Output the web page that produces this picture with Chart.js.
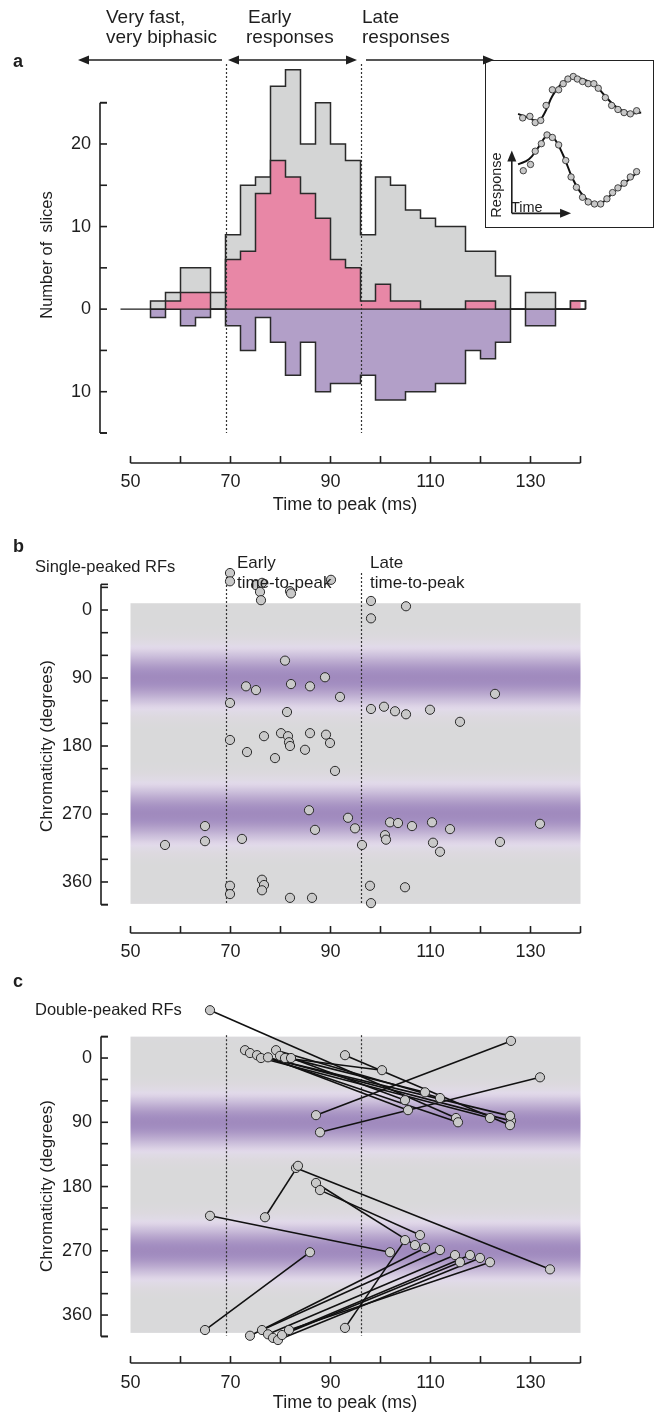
<!DOCTYPE html>
<html lang="en">
<head>
<meta charset="UTF-8">
<title>Time to peak</title>
<script src="https://cdn.jsdelivr.net/npm/chart.js"></script>
<style>
  body { margin: 0; background: #fff; }
  .page { position: relative; width: 662px; height: 1416px; overflow: hidden; }
  .page canvas { position: absolute; left: 0; }
  .insetBox { position: absolute; left: 485px; top: 60px; width: 167px; height: 166px; border: 1.5px solid #222; }
  .insetBox canvas { position: absolute; left: 0; top: 0; }
</style>
</head>
<body>
<div class="page">
  <canvas id="histo" width="662" height="520" style="top:0"></canvas>
  <div class="insetBox"><canvas id="inset" width="167" height="166"></canvas></div>
  <canvas id="single" width="662" height="440" style="top:520px"></canvas>
  <canvas id="double" width="662" height="456" style="top:960px"></canvas>
</div>
<script>
// ---- data ----
const timeTicks = [50, 60, 70, 80, 90, 100, 110, 120, 130, 140];
const timeLabels = [50, 70, 90, 110, 130];
const boundaries = [69, 96];

// panel a histogram, 3 ms bins
const binStart = [54,57,60,63,66,69,72,75,78,81,84,87,90,93,96,99,102,105,108,111,114,117,120,123,126,129,132,135,138];
const binWidth = 3;
const allCounts    = [1,2,5,5,2, 9,15,16,27,29,20,25,20,18, 9,16,15,12,11,10,10,7,7,4, 0,2,2,0,1];
const pinkCounts   = [0,1,2,2,0, 6,7,14,18,16,14,11,6,5, 1,3,1,1,0,0,0,1,1,0, 0,0,0,0,1];
const purpleCounts = [1,0,2,1,0, 2,5,1,4,8,4,10,9,9, 8,11,11,10,10,9,9,5,6,4, 0,2,2,0,0];
const sliceTicks = [-15, -10, -5, 0, 5, 10, 15, 20, 25];
const sliceLabels = [-10, 0, 10, 20];

// panel b, single-peaked
const singleTime = [69.9,69.9,75.1,76.3,75.9,76.1,81.9,82.1,90.1,80.9,73.1,75.1,82.1,85.9,88.9,69.9,81.3,91.9,
  69.9,76.7,80.1,81.5,81.7,81.9,85.9,89.1,89.9,73.3,78.9,84.9,90.9,85.7,93.5,94.9,64.9,64.9,56.9,72.3,86.9,
  69.9,69.9,76.3,76.7,76.3,81.9,86.3,96.3,98.1,105.1,98.1,122.9,98.1,100.7,102.9,105.1,109.9,115.9,
  101.9,103.5,100.9,101.1,110.3,106.3,113.9,110.5,111.9,123.9,131.9,97.9,104.9,98.1];
const singleDeg = [-49,-38,-33,-36,-24,-13,-25,-22,-40,67,101,106,98,101,89,123,135,115,
  172,167,163,167,175,180,163,165,176,188,196,185,213,265,275,289,286,306,311,303,291,
  365,376,357,364,371,381,381,311,-12,-5,11,111,131,128,134,138,132,148,
  281,282,298,304,281,286,290,308,320,307,283,365,367,388];

// panel c, double-peaked: early peak -> late peak
const earlyTime = [65.9,72.9,73.9,75.3,76.1,77.5,79.1,79.9,80.9,82.1,92.9,131.9,126.1,76.9,83.1,87.1,87.9,64.9,73.9,76.3,77.5,78.5,79.5,80.3,81.7,92.9,65.9];
const earlyDeg  = [-67,-11,-7,-4,0,-1,-11,-3,0,0,-4,27,-24,223,154,175,185,381,389,381,387,392,395,388,381,378,221];
const lateTime  = [115.1,115.5,126.1,125.9,121.9,105.5,111.9,108.9,100.3,104.9,125.9,87.9,87.1,83.5,133.9,106.9,107.9,85.9,108.9,111.9,114.9,117.9,119.9,115.9,121.9,104.9,101.9];
const lateDeg   = [84,90,88,81,84,73,56,48,17,59,94,104,80,151,296,262,248,272,266,269,276,276,280,286,286,255,272];

const chromaTicks = [-30,0,30,60,90,120,150,180,210,240,270,300,330,360,390];
const chromaLabels = [0, 90, 180, 270, 360];

// inset example responses
const insetTopTime = [20.2,24.8,28.2,31.7,35.1,39.1,43.1,46.0,49.0,52.4,55.0,58.3,61.9,65.5,68.3,72.8,76.8,80.8,84.7,88.7,92.7];
const insetTopResp = [66.7,67.7,63.7,65.1,74.7,84.7,84.7,88.6,91.6,93.2,91.6,90.0,88.6,88.6,85.7,79.7,74.7,72.1,70.1,69.3,71.3];
const insetTopFitT = [17.3,24.2,30.2,34.1,39.1,45,52,59.9,65.9,71.8,77.8,83.7,89.7,95.6];
const insetTopFitR = [69.3,66.7,64.7,69.7,80.7,88.6,92.6,91,88,81.7,75.3,71.3,69.7,70.1];
const insetBotTime = [20.6,25.2,28.2,32.1,35.7,39.1,43.1,47.6,51.0,54.4,58.3,61.9,65.9,69.8,73.8,77.4,80.8,84.7,88.7,92.7];
const insetBotResp = [32.9,36.9,45.4,50.2,55.8,54.2,49.4,39.4,28.9,22.3,15.9,12.9,11.6,11.6,14.9,18.9,21.9,24.9,28.9,32.3];
const insetBotFitT = [17.3,24.2,30.2,36.1,40.1,46,52,57.9,64.9,70.8,77.8,85.7,93.7];
const insetBotFitR = [36.9,40.2,47.8,55.8,53.8,42.8,27.9,17.9,12,12.4,18.9,25.5,32.3];

// ---- helpers ----
const FONT = '"Liberation Sans", Arial, Helvetica, sans-serif';
const INK = '#1e1e1e';
Chart.defaults.font.family = FONT;

function txt(ctx, s, x, y, size, o = {}) {
  ctx.save();
  ctx.font = (o.bold ? 'bold ' : '') + size + 'px ' + FONT;
  ctx.fillStyle = INK;
  ctx.textAlign = o.align || 'left';
  ctx.textBaseline = 'middle';
  ctx.translate(x, y);
  if (o.rotate) ctx.rotate(o.rotate);
  ctx.fillText(s, 0, 0);
  ctx.restore();
}

function head(ctx, x, y, ang) {
  const L = 11, W = 4.5;
  ctx.beginPath();
  ctx.moveTo(x, y);
  ctx.lineTo(x - L * Math.cos(ang) + W * Math.sin(ang), y - L * Math.sin(ang) - W * Math.cos(ang));
  ctx.lineTo(x - L * Math.cos(ang) - W * Math.sin(ang), y - L * Math.sin(ang) + W * Math.cos(ang));
  ctx.closePath();
  ctx.fill();
}

function line(ctx, x1, y1, x2, y2) {
  ctx.beginPath(); ctx.moveTo(x1, y1); ctx.lineTo(x2, y2); ctx.stroke();
}

function xAxis(ctx, xs, yPix, labelY) {
  ctx.save();
  ctx.strokeStyle = INK; ctx.lineWidth = 1.6;
  line(ctx, xs.getPixelForValue(timeTicks[0]), yPix, xs.getPixelForValue(timeTicks[timeTicks.length - 1]), yPix);
  timeTicks.forEach(t => { const p = xs.getPixelForValue(t); line(ctx, p, yPix, p, yPix - 7); });
  ctx.restore();
  timeLabels.forEach(t => txt(ctx, String(t), xs.getPixelForValue(t), labelY, 18, { align: 'center' }));
}

function yAxis(ctx, ys, xPix, from, to, ticks, labels, fmt) {
  ctx.save();
  ctx.strokeStyle = INK; ctx.lineWidth = 1.6;
  line(ctx, xPix, ys.getPixelForValue(from), xPix, ys.getPixelForValue(to));
  [from, to].concat(ticks).forEach(v => { const p = ys.getPixelForValue(v); line(ctx, xPix, p, xPix + 7, p); });
  ctx.restore();
  labels.forEach(v => txt(ctx, fmt(v), xPix - 9, ys.getPixelForValue(v), 18, { align: 'right' }));
}

function dashed(ctx, xs, ys, from, to) {
  ctx.save();
  ctx.strokeStyle = '#333'; ctx.lineWidth = 1.2; ctx.setLineDash([2, 2]);
  boundaries.forEach(b => { const p = Math.round(xs.getPixelForValue(b)) + 0.5; line(ctx, p, ys.getPixelForValue(from), p, ys.getPixelForValue(to)); });
  ctx.restore();
}

function stepPoints(counts, sign) {
  const pts = [{ x: binStart[0], y: 0 }];
  counts.forEach((c, i) => pts.push({ x: binStart[i], y: sign * c }));
  pts.push({ x: binStart[binStart.length - 1] + binWidth, y: 0 });
  return pts;
}

function chromaColor(d) {
  const t = Math.pow((1 - Math.cos(2 * d * Math.PI / 180)) / 2, 2.5);
  const grey = [217, 217, 218], light = [226, 218, 234], purple = [160, 138, 190];
  let a, b, k;
  if (t < 0.25) { a = grey; b = light; k = t / 0.25; } else { a = light; b = purple; k = (t - 0.25) / 0.75; }
  const c = a.map((v, i) => Math.round(v + (b[i] - v) * k));
  return 'rgb(' + c.join(',') + ')';
}

function chromaBackground(ctx, xs, ys, top, bottom) {
  const y1 = ys.getPixelForValue(top), y2 = ys.getPixelForValue(bottom);
  const g = ctx.createLinearGradient(0, y1, 0, y2);
  for (let d = top; d <= bottom; d += 3) g.addColorStop((d - top) / (bottom - top), chromaColor(d));
  ctx.save();
  ctx.fillStyle = g;
  const x1 = xs.getPixelForValue(timeTicks[0]), x2 = xs.getPixelForValue(timeTicks[timeTicks.length - 1]);
  ctx.fillRect(x1, y1, x2 - x1, y2 - y1);
  ctx.restore();
}

const baseOpts = (pad, yMin, yMax, reverse) => ({
  responsive: false, animation: false, devicePixelRatio: 1,
  layout: { padding: pad },
  scales: {
    x: { type: 'linear', min: 50, max: 140, display: false },
    y: { type: 'linear', min: yMin, max: yMax, reverse: reverse, display: false }
  },
  plugins: { legend: { display: false }, tooltip: { enabled: false } }
});

// ---- panel a ----
// 'before' = horizontal at the previous value, then the vertical edge
const stepStyle = (fill) => ({
  stepped: 'before', fill: 'origin', backgroundColor: fill, borderColor: '#2a2a2a',
  borderWidth: 1.5, pointRadius: 0, clip: false
});

new Chart(document.getElementById('histo'), {
  type: 'line',
  data: {
    datasets: [
      Object.assign({ label: 'pink', data: stepPoints(pinkCounts, 1) }, stepStyle('#e887a6')),
      Object.assign({ label: 'purple', data: stepPoints(purpleCounts, -1) }, stepStyle('#b29fc8')),
      Object.assign({ label: 'all', data: stepPoints(allCounts, 1) }, stepStyle('#d4d5d5'))
    ]
  },
  options: baseOpts({ left: 130.5, right: 81.5, top: 61.4, bottom: 87 }, -15, 30, false),
  plugins: [{
    id: 'panelA',
    afterDatasetsDraw(chart) {
      const { ctx, scales: { x, y } } = chart;
      ctx.save();
      ctx.strokeStyle = INK; ctx.lineWidth = 1.4;
      line(ctx, x.getPixelForValue(48), y.getPixelForValue(0), x.getPixelForValue(141), y.getPixelForValue(0));
      ctx.restore();
      dashed(ctx, x, y, 29.7, -15);
    },
    afterDraw(chart) {
      const { ctx, scales: { x, y } } = chart;
      yAxis(ctx, y, 100, -15, 25, sliceTicks, sliceLabels, v => String(Math.abs(v)));
      xAxis(ctx, x, 463, 482);
      txt(ctx, 'Number of  slices', 47, 255, 16.5, { align: 'center', rotate: -Math.PI / 2 });
      txt(ctx, 'Time to peak (ms)', 345, 505, 18, { align: 'center' });
      txt(ctx, 'a', 13, 62, 18, { bold: true });
      txt(ctx, 'Very fast,', 106, 18, 19);
      txt(ctx, 'very biphasic', 106, 38, 19);
      txt(ctx, 'Early', 248, 18, 19);
      txt(ctx, 'responses', 246, 38, 19);
      txt(ctx, 'Late', 362, 18, 19);
      txt(ctx, 'responses', 362, 38, 19);
      ctx.save();
      ctx.strokeStyle = INK; ctx.fillStyle = INK; ctx.lineWidth = 1.6;
      line(ctx, 84, 60, 222, 60); head(ctx, 78, 60, Math.PI);
      line(ctx, 234, 60, 351, 60); head(ctx, 228, 60, Math.PI); head(ctx, 357, 60, 0);
      line(ctx, 366, 60, 488, 60); head(ctx, 494, 60, 0);
      ctx.restore();
    }
  }]
});

// ---- inset ----
const pts = (xs, ys) => xs.map((v, i) => ({ x: v, y: ys[i] }));
const dotStyle = { showLine: false, pointRadius: 3.2, pointBackgroundColor: '#c8c8c8', pointBorderColor: '#333', pointBorderWidth: 0.9 };
const fitStyle = { showLine: true, tension: 0.4, borderColor: '#111', borderWidth: 2, pointRadius: 0 };
new Chart(document.getElementById('inset'), {
  type: 'scatter',
  data: {
    datasets: [
      Object.assign({ data: pts(insetTopTime, insetTopResp) }, dotStyle),
      Object.assign({ data: pts(insetBotTime, insetBotResp) }, dotStyle),
      Object.assign({ data: pts(insetTopFitT, insetTopFitR) }, fitStyle),
      Object.assign({ data: pts(insetBotFitT, insetBotFitR) }, fitStyle)
    ]
  },
  options: {
    responsive: false, animation: false, devicePixelRatio: 1,
    layout: { padding: 0 },
    scales: { x: { type: 'linear', min: 0, max: 100, display: false }, y: { min: 0, max: 100, display: false } },
    plugins: { legend: { display: false }, tooltip: { enabled: false } }
  },
  plugins: [{
    id: 'insetAxes',
    afterDraw(chart) {
      const { ctx, scales: { x, y } } = chart;
      const ox = x.getPixelForValue(13.3), oy = y.getPixelForValue(5.6);
      ctx.save();
      ctx.strokeStyle = INK; ctx.fillStyle = INK; ctx.lineWidth = 1.6;
      line(ctx, ox, oy, ox, y.getPixelForValue(45.8) + 9); head(ctx, ox, y.getPixelForValue(45.8), -Math.PI / 2);
      line(ctx, ox, oy, x.getPixelForValue(51) - 9, oy); head(ctx, x.getPixelForValue(51), oy, 0);
      ctx.restore();
      txt(ctx, 'Response', 11, 124, 14.5, { align: 'center', rotate: -Math.PI / 2 });
      txt(ctx, 'Time', 25, 147, 14.5);
    }
  }]
});

// ---- panel b ----
new Chart(document.getElementById('single'), {
  type: 'scatter',
  data: {
    datasets: [{
      data: pts(singleTime, singleDeg), pointRadius: 4.6, pointBackgroundColor: '#c9c9c9',
      pointBorderColor: '#2a2a2a', pointBorderWidth: 1, clip: false
    }]
  },
  options: baseOpts({ left: 130.5, right: 81.5, top: 44.7, bottom: 47.8 }, -60, 400, true),
  plugins: [{
    id: 'panelB',
    beforeDatasetsDraw(chart) {
      const { ctx, scales: { x, y } } = chart;
      chromaBackground(ctx, x, y, -9, 389);
      dashed(ctx, x, y, -49, 389);
    },
    afterDraw(chart) {
      const { ctx, scales: { x, y } } = chart;
      yAxis(ctx, y, 101, -34, 390, chromaTicks, chromaLabels, v => String(v));
      xAxis(ctx, x, 413, 432);
      txt(ctx, 'Chromaticity (degrees)', 47, 226, 17, { align: 'center', rotate: -Math.PI / 2 });
      txt(ctx, 'b', 13, 27, 18, { bold: true });
      txt(ctx, 'Single-peaked RFs', 35, 47, 16.5);
      txt(ctx, 'Early', 237, 43, 17);
      txt(ctx, 'time-to-peak', 237, 63, 17);
      txt(ctx, 'Late', 370, 43, 17);
      txt(ctx, 'time-to-peak', 370, 63, 17);
    }
  }]
});

// ---- panel c ----
const pairSets = earlyTime.map((t, i) => ({
  data: [{ x: t, y: earlyDeg[i] }, { x: lateTime[i], y: lateDeg[i] }],
  showLine: true, borderColor: '#111', borderWidth: 1.6, pointRadius: 0, clip: false
}));
new Chart(document.getElementById('double'), {
  type: 'scatter',
  data: {
    datasets: [{
      data: pts(earlyTime, earlyDeg).concat(pts(lateTime, lateDeg)), pointRadius: 4.6,
      pointBackgroundColor: '#c9c9c9', pointBorderColor: '#2a2a2a', pointBorderWidth: 1, clip: false
    }].concat(pairSets)
  },
  options: baseOpts({ left: 130.5, right: 81.5, top: 55.2, bottom: 72.4 }, -60, 400, true),
  plugins: [{
    id: 'panelC',
    beforeDatasetsDraw(chart) {
      const { ctx, scales: { x, y } } = chart;
      chromaBackground(ctx, x, y, -30, 385);
      dashed(ctx, x, y, -32, 389);
    },
    afterDraw(chart) {
      const { ctx, scales: { x, y } } = chart;
      yAxis(ctx, y, 101, -30, 390, chromaTicks, chromaLabels, v => String(v));
      xAxis(ctx, x, 403, 423);
      txt(ctx, 'Chromaticity (degrees)', 47, 226, 17, { align: 'center', rotate: -Math.PI / 2 });
      txt(ctx, 'Time to peak (ms)', 345, 443, 18, { align: 'center' });
      txt(ctx, 'c', 13, 22, 18, { bold: true });
      txt(ctx, 'Double-peaked RFs', 35, 50, 16.5);
    }
  }]
});
</script>
</body>
</html>
